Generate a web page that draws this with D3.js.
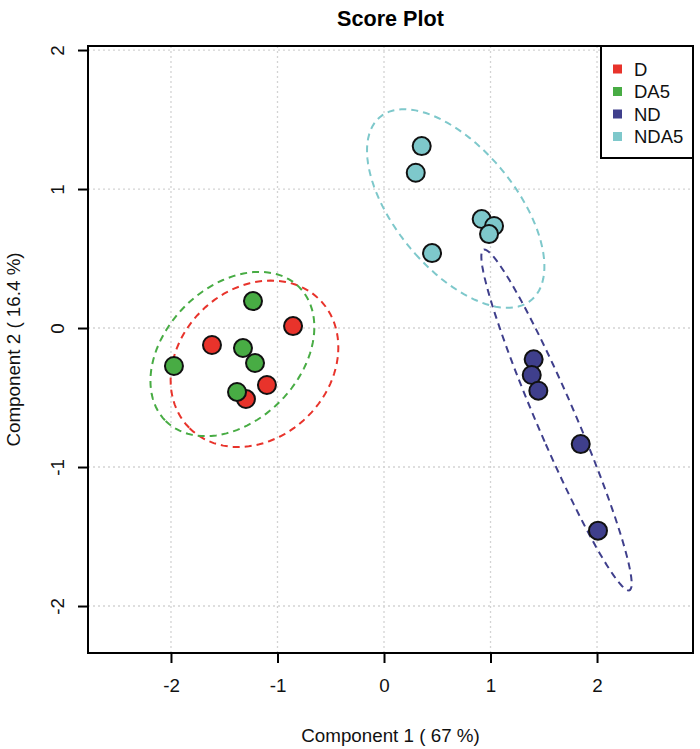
<!DOCTYPE html>
<html>
<head>
<meta charset="utf-8">
<script src="https://d3js.org/d3.v7.min.js"></script>
<style>
  body { margin: 0; background: #fff; }
  svg { font-family: "Liberation Sans", Arial, sans-serif; }
</style>
</head>
<body>
<script>
// group names and colours
var groups = ["D", "DA5", "ND", "NDA5"];
var colors = ["#e8332b", "#48ac44", "#3f3f8c", "#7ec8cb"];

// score values (component 1, component 2) per group
var pc1D    = [-1.615, -0.854, -1.099, -1.296];
var pc2D    = [-0.122,  0.014, -0.410, -0.511];
var pc1DA5  = [-1.230, -1.324, -1.211, -1.380, -1.972];
var pc2DA5  = [ 0.194, -0.144, -0.252, -0.460, -0.273];
var pc1ND   = [ 1.405,  1.387,  1.449,  1.847,  2.009];
var pc2ND   = [-0.225, -0.338, -0.451, -0.835, -1.458];
var pc1NDA5 = [ 0.354,  0.298,  0.917,  1.033,  0.986,  0.451];
var pc2NDA5 = [ 1.309,  1.117,  0.784,  0.734,  0.676,  0.539];

var xTicks = [-2, -1, 0, 1, 2];
var yTicks = [-2, -1, 0, 1, 2];
var xDomain = [-2.779, 2.901];
var yDomain = [-2.338, 2.029];

var xs = [pc1D, pc1DA5, pc1ND, pc1NDA5];
var ys = [pc2D, pc2DA5, pc2ND, pc2NDA5];

var W = 700, H = 749;
var pL = 88, pR = 693, pT = 46, pB = 653;
var fs = 18.8;

var svg = d3.select("body").append("svg")
  .attr("width", W).attr("height", H);

var x = d3.scaleLinear().domain(xDomain).range([pL, pR]);
var y = d3.scaleLinear().domain(yDomain).range([pB, pT]);

// grid
svg.append("g").selectAll("line").data(xTicks).join("line")
  .attr("x1", d => x(d)).attr("x2", d => x(d))
  .attr("y1", pT).attr("y2", pB)
  .attr("stroke", "#d3d3d3").attr("stroke-width", 1.3)
  .attr("stroke-dasharray", "2,3");
svg.append("g").selectAll("line").data(yTicks).join("line")
  .attr("y1", d => y(d)).attr("y2", d => y(d))
  .attr("x1", pL).attr("x2", pR)
  .attr("stroke", "#d3d3d3").attr("stroke-width", 1.3)
  .attr("stroke-dasharray", "2,3");

// 95% confidence ellipse from sample covariance (like ellipse::ellipse)
function ellipsePts(px, py) {
  var n = px.length;
  var mx = d3.mean(px), my = d3.mean(py);
  var sx = d3.deviation(px), sy = d3.deviation(py);
  var c = 0;
  for (var i = 0; i < n; i++) c += (px[i] - mx) * (py[i] - my);
  c = c / (n - 1);
  var r = c / (sx * sy);
  var t = Math.sqrt(5.991465);
  var dd = Math.acos(r);
  var pts = [];
  for (var k = 0; k <= 100; k++) {
    var a = -Math.PI + 2 * Math.PI * k / 100;
    pts.push([mx + t * sx * Math.cos(a + dd / 2), my + t * sy * Math.cos(a - dd / 2)]);
  }
  return pts;
}

var line = d3.line().x(d => x(d[0])).y(d => y(d[1]));

var gEll = svg.append("g");
groups.forEach(function(g, i) {
  gEll.append("path")
    .attr("d", line(ellipsePts(xs[i], ys[i])))
    .attr("fill", "none")
    .attr("stroke", colors[i])
    .attr("stroke-width", 2)
    .attr("stroke-dasharray", "7,5");
});

// points
var gPts = svg.append("g");
groups.forEach(function(g, i) {
  gPts.selectAll(null).data(d3.range(xs[i].length)).join("circle")
    .attr("cx", j => x(xs[i][j]))
    .attr("cy", j => y(ys[i][j]))
    .attr("r", 9)
    .attr("fill", colors[i])
    .attr("stroke", "#111")
    .attr("stroke-width", 2);
});

// box
svg.append("rect")
  .attr("x", pL).attr("y", pT)
  .attr("width", pR - pL).attr("height", pB - pT)
  .attr("fill", "none").attr("stroke", "#000").attr("stroke-width", 2);

// axes
var xAxis = d3.axisBottom(x).tickValues(xTicks).tickSize(10).tickPadding(16).tickFormat(d => String(d));
var yAxis = d3.axisLeft(y).tickValues(yTicks).tickSize(10).tickPadding(16).tickFormat(d => String(d));

var gx = svg.append("g").attr("transform", "translate(0," + pB + ")").call(xAxis);
gx.select(".domain").remove();
gx.selectAll("line").attr("stroke-width", 2);
gx.selectAll("text").attr("font-size", fs).attr("fill", "#111").style("font-family", "Liberation Sans, Arial, sans-serif");

var gy = svg.append("g").attr("transform", "translate(" + pL + ",0)").call(yAxis);
gy.select(".domain").remove();
gy.selectAll("line").attr("stroke-width", 2);
gy.selectAll("text")
  .attr("font-size", fs).attr("fill", "#111")
  .style("font-family", "Liberation Sans, Arial, sans-serif")
  .attr("text-anchor", "middle")
  .attr("x", -31).attr("dy", "0.35em")
  .attr("transform", "rotate(-90, -31, 0)");

// titles
svg.append("text")
  .attr("x", (pL + pR) / 2).attr("y", 26)
  .attr("text-anchor", "middle")
  .attr("font-size", 21.6).attr("font-weight", "bold")
  .text("Score Plot");

svg.append("text")
  .attr("x", (pL + pR) / 2).attr("y", 742)
  .attr("text-anchor", "middle")
  .attr("font-size", fs).attr("fill", "#111")
  .text("Component 1 ( 67 %)");

svg.append("text")
  .attr("transform", "translate(20," + (pT + pB) / 2 + ") rotate(-90)")
  .attr("text-anchor", "middle")
  .attr("font-size", fs).attr("fill", "#111")
  .text("Component 2 ( 16.4 %)");

// legend
var lg = svg.append("g").attr("transform", "translate(601," + pT + ")");
lg.append("rect")
  .attr("width", 92).attr("height", 112)
  .attr("fill", "#fff").attr("stroke", "#000").attr("stroke-width", 2);
groups.forEach(function(g, i) {
  var yy = 23 + i * 22.5;
  lg.append("rect")
    .attr("x", 12).attr("y", yy - 4.5).attr("width", 9).attr("height", 9)
    .attr("fill", colors[i]);
  lg.append("text")
    .attr("x", 33).attr("y", yy).attr("dy", "0.36em")
    .attr("font-size", 18.5).attr("fill", "#111")
    .text(g);
});
</script>
</body>
</html>
